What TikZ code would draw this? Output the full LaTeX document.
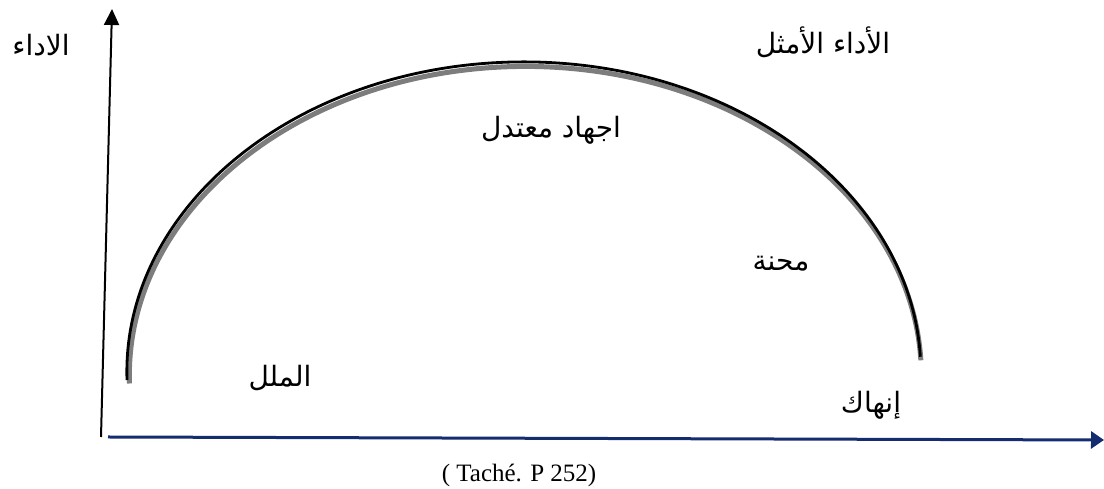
\documentclass[tikz,border=0pt]{standalone}
\usepackage{fontspec}
\setmainfont{Liberation Serif}
\newfontfamily\arabicfont[Script=Arabic]{DejaVu Sans}
\TeXXeTstate=1
\usetikzlibrary{arrows.meta}
\definecolor{axisblue}{RGB}{20,45,110}
\definecolor{shadowgray}{RGB}{125,125,125}
\tikzset{
  arlabel/.style={inner sep=0pt, font=\arabicfont\fontsize{28}{30}\selectfont},
  citelabel/.style={inner sep=0pt, font=\fontsize{25}{28}\selectfont},
  yaxis/.style={draw=black, line width=2pt, -{Triangle[length=16pt,width=15pt]}},
  xaxis/.style={draw=axisblue, line width=3pt, -{Triangle[length=13pt,width=17pt]}},
  curveshadow/.style={draw=shadowgray, line width=5pt},
  curveline/.style={draw=black, line width=2.8pt}
}
\begin{document}
\begin{tikzpicture}[x=1pt,y=1pt]
\useasboundingbox (0,0) rectangle (1104,489);
% axes
\coordinate (yO) at (101,52);
\coordinate (yT) at (112,480);
\coordinate (xO) at (108,52);
\coordinate (xT) at (1104,49);
\draw[yaxis] (yO) -- (yT);
\draw[xaxis] (xO) -- (xT);
% curve
\coordinate (cL) at (127,109);
\coordinate (cLs) at (129.5,105.5);
\draw[curveshadow] (cLs) arc[start angle=181.5, end angle=2.8, x radius=396, y radius=309];
\draw[curveline] (cL) arc[start angle=181.5, end angle=2.8, x radius=397, y radius=310];
% labels
\node[arlabel] (perf) at (41,444) {\beginR الاداء\endR};
\node[arlabel] (opt) at (823,447) {\beginR الأداء الأمثل\endR};
\node[arlabel] (mod) at (551,359) {\beginR اجهاد معتدل\endR};
\node[arlabel] (dist) at (781,225) {\beginR محنة\endR};
\node[arlabel] (bore) at (280,111) {\beginR الملل\endR};
\node[arlabel] (exh) at (871,84) {\beginR إنهاك\endR};
\node[citelabel] (cite) at (519,14) {( Taché. P 252)};
\end{tikzpicture}
\end{document}
